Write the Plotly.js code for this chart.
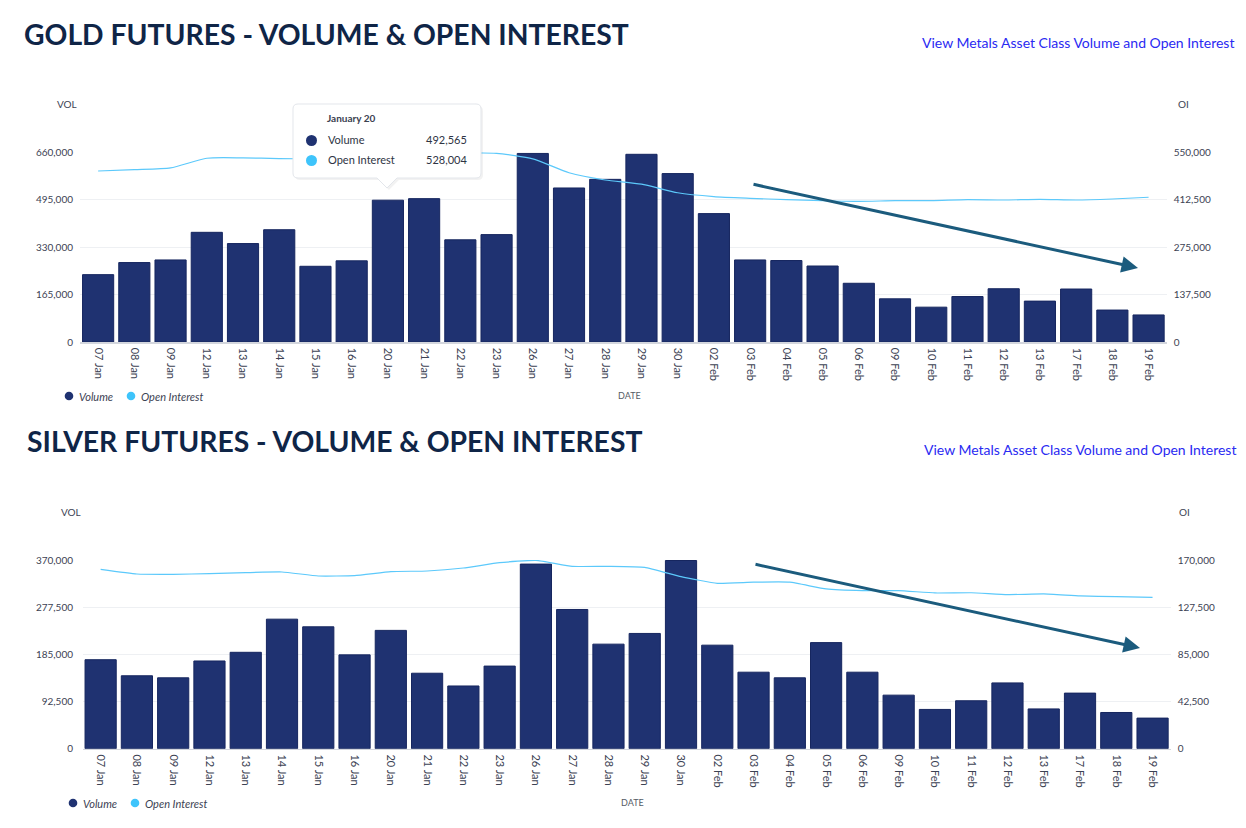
<!DOCTYPE html>
<html>
<head>
<meta charset="utf-8">
<script src="https://cdn.plot.ly/plotly-3.0.1.min.js"></script>
<style>
html,body{margin:0;padding:0;background:#fff;}
#chart{width:1246px;height:828px;}
</style>
</head>
<body>
<div id="chart"></div>
<script>
// ---------------- DATA ----------------
const dates = ['07 Jan','08 Jan','09 Jan','12 Jan','13 Jan','14 Jan','15 Jan','16 Jan','20 Jan','21 Jan',
  '22 Jan','23 Jan','26 Jan','27 Jan','28 Jan','29 Jan','30 Jan','02 Feb','03 Feb','04 Feb',
  '05 Feb','06 Feb','09 Feb','10 Feb','11 Feb','12 Feb','13 Feb','17 Feb','18 Feb','19 Feb'];

const goldVolume = [234000,276000,285000,381000,342000,390000,263000,282000,492565,498000,
  355000,373000,655000,535000,565000,652000,585000,446000,285000,283000,
  264000,204000,150000,121000,158000,185000,142000,184000,111000,94000];

const goldOpenInterest = [495000,499000,504000,532000,533000,531000,530000,529000,528004,540000,
  546000,546000,530000,490000,469000,457000,432000,421000,416000,412000,
  409000,407000,409000,409000,412000,411000,413000,411000,414000,419000];

const silverVolume = [174500,143000,139000,172000,189000,254000,239000,184000,232000,148000,
  123000,162000,362000,273000,205000,226000,369000,203000,150000,139000,
  208000,150000,105000,77000,94000,129000,78000,109000,71000,60000];

const silverOpenInterest = [161600,157400,157100,157700,158600,159200,155600,155900,159500,160100,
  162800,167600,169700,164300,164300,163400,155000,149000,150000,150000,
  143900,142400,142400,140300,140500,138800,139400,137600,137000,136400];

const goldVolTicks = [0,165000,330000,495000,660000];
const goldOITicks = [0,137500,275000,412500,550000];
const silverVolTicks = [0,92500,185000,277500,370000];
const silverOITicks = [0,42500,85000,127500,170000];

const tooltipIndex = 8; // 20 Jan

// ---------------- STYLE ----------------
const W = 1246, H = 828;
const FONT = 'Lato, "Open Sans", sans-serif';
const NAVY = '#1f3271';
const LIGHT = '#5cc9fb';
const DOT_LIGHT = '#3ec4fb';
const TXT = '#3c4253';
const TITLE = '#0f2547';
const LINK = '#2a2af2';
const ARROW = '#1b5b7d';
const px = x => x / W;
const py = y => 1 - y / H;
const fmt = v => v.toLocaleString('en-US');

const months = {Jan:'January', Feb:'February'};
const tipDate = (() => { const p = dates[tooltipIndex].split(' '); return months[p[1]] + ' ' + parseInt(p[0], 10); })();

const traces = [
  {type:'bar', x:dates, y:goldVolume, xaxis:'x', yaxis:'y', name:'Volume',
   marker:{color:NAVY, line:{color:'#16265f', width:1}}, showlegend:false, hoverinfo:'skip'},
  {type:'scatter', mode:'lines', x:dates, y:goldOpenInterest, xaxis:'x', yaxis:'y2', name:'Open Interest',
   line:{color:LIGHT, width:1.2, shape:'spline', smoothing:0.6}, showlegend:false, hoverinfo:'skip'},
  {type:'bar', x:dates, y:silverVolume, xaxis:'x2', yaxis:'y3', name:'Volume',
   marker:{color:NAVY, line:{color:'#16265f', width:1}}, showlegend:false, hoverinfo:'skip'},
  {type:'scatter', mode:'lines', x:dates, y:silverOpenInterest, xaxis:'x2', yaxis:'y4', name:'Open Interest',
   line:{color:LIGHT, width:1.2, shape:'spline', smoothing:0.4}, showlegend:false, hoverinfo:'skip'}
];

const tickFont = {family:FONT, size:10, color:TXT};
function xAxis(x0, x1, anchor) {
  return {domain:[px(x0), px(x1)], anchor:anchor, type:'category', tickangle:90,
    showgrid:false, showline:true, linecolor:'#d3d6dd', linewidth:1.5, ticks:'',
    tickfont:{family:FONT, size:11, color:TXT}, ticklabelstandoff:2, fixedrange:true, automargin:false};
}
function yLeft(y0, y1, ticks) {
  return {domain:[py(y1), py(y0)], range:[0, ticks[ticks.length-1]], tickmode:'array', tickvals:ticks,
    ticktext:ticks.map(fmt), showgrid:true, gridcolor:'#eef0f3', gridwidth:1, zeroline:false,
    showline:false, ticks:'', tickfont:tickFont, ticklabelstandoff:6, fixedrange:true, automargin:false};
}
function yRight(over, anchor, ticks) {
  return {overlaying:over, side:'right', anchor:anchor, range:[0, ticks[ticks.length-1]], tickmode:'array',
    tickvals:ticks, ticktext:ticks.map(fmt), showgrid:false, zeroline:false, showline:false, ticks:'',
    tickfont:tickFont, ticklabelstandoff:6, fixedrange:true, automargin:false};
}

const ann = [];
function txt(text, x, y, opts) {
  ann.push(Object.assign({text:text, x:px(x), y:py(y), xref:'paper', yref:'paper', showarrow:false,
    xanchor:'left', yanchor:'middle', font:{family:FONT, size:10, color:TXT}}, opts || {}));
}
const shapes = [];
function dot(cx, cy, r, color) {
  shapes.push({type:'circle', xref:'paper', yref:'paper', x0:px(cx - r), x1:px(cx + r),
    y0:py(cy + r), y1:py(cy - r), fillcolor:color, line:{width:0}, layer:'above'});
}
function tipPath(x0, y0, x1, y1, r, cx, ph, off) {
  const P = (x, y) => (px(x + off)).toFixed(5) + ',' + (py(y + off)).toFixed(5);
  return 'M' + P(x0 + r, y0) + ' L' + P(x1 - r, y0) + ' Q' + P(x1, y0) + ' ' + P(x1, y0 + r) +
    ' L' + P(x1, y1 - r) + ' Q' + P(x1, y1) + ' ' + P(x1 - r, y1) +
    ' L' + P(cx + 10, y1) + ' L' + P(cx, y1 + ph) + ' L' + P(cx - 10, y1) +
    ' L' + P(x0 + r, y1) + ' Q' + P(x0, y1) + ' ' + P(x0, y1 - r) +
    ' L' + P(x0, y0 + r) + ' Q' + P(x0, y0) + ' ' + P(x0 + r, y0) + ' Z';
}

// Titles & links
txt('<b>GOLD FUTURES - VOLUME &amp; OPEN INTEREST</b>', 22, 34, {font:{family:FONT, size:28.3, color:TITLE}});
txt('<b>SILVER FUTURES - VOLUME &amp; OPEN INTEREST</b>', 25, 441, {font:{family:FONT, size:28.3, color:TITLE}});
txt('View Metals Asset Class Volume and Open Interest', 1236, 42, {xanchor:'right', font:{family:FONT, size:14, color:LINK}});
txt('View Metals Asset Class Volume and Open Interest', 1238, 449, {xanchor:'right', font:{family:FONT, size:14, color:LINK}});
// Axis titles
txt('VOL', 55, 104, {font:{family:FONT, size:10, color:TXT}});
txt('OI', 1176, 104, {font:{family:FONT, size:10, color:TXT}});
txt('VOL', 59, 512, {font:{family:FONT, size:10, color:TXT}});
txt('OI', 1177, 512, {font:{family:FONT, size:10, color:TXT}});
txt('DATE', 629, 395, {xanchor:'center', font:{family:FONT, size:9, color:'#555b66'}});
txt('DATE', 632, 802, {xanchor:'center', font:{family:FONT, size:9, color:'#555b66'}});
// Legends
[[69, 396], [73, 803]].forEach(([lx, ly]) => {
  dot(lx, ly, 4.3, NAVY);
  txt('<i>Volume</i>', lx + 8, ly, {font:{family:FONT, size:11, color:TXT}});
  dot(lx + 62, ly, 4.3, DOT_LIGHT);
  txt('<i>Open Interest</i>', lx + 70, ly, {font:{family:FONT, size:11, color:TXT}});
});
// Trend arrows
ann.push({x:px(1138), y:py(268), xref:'paper', yref:'paper', text:'', showarrow:true, ax:-386, ay:-84,
  arrowhead:2, arrowsize:1.1, arrowwidth:3, arrowcolor:ARROW, standoff:0});
ann.push({x:px(1140), y:py(648), xref:'paper', yref:'paper', text:'', showarrow:true, ax:-386, ay:-84,
  arrowhead:2, arrowsize:1.1, arrowwidth:3, arrowcolor:ARROW, standoff:0});

// Tooltip box
shapes.push({type:'path', xref:'paper', yref:'paper', path:tipPath(293, 104, 481, 178, 5, 387, 10, 2),
  fillcolor:'rgba(0,0,0,0.05)', line:{width:0}, layer:'above'});
shapes.push({type:'path', xref:'paper', yref:'paper', path:tipPath(293, 104, 481, 178, 5, 387, 10, 0),
  fillcolor:'#ffffff', line:{color:'#e3e6eb', width:1}, layer:'above'});
dot(311.5, 140.5, 5.5, NAVY);
dot(311.5, 160.5, 5.5, DOT_LIGHT);
// Tooltip content
txt('<b>' + tipDate + '</b>', 325, 118, {font:{family:FONT, size:10, color:'#3a4150'}});
txt('Volume', 326, 140, {font:{family:FONT, size:11, color:'#2e3444'}});
txt(fmt(goldVolume[tooltipIndex]), 469, 140, {xanchor:'right', font:{family:FONT, size:11, color:'#2e3444'}});
txt('Open Interest', 326, 160, {font:{family:FONT, size:11, color:'#2e3444'}});
txt(fmt(goldOpenInterest[tooltipIndex]), 469, 160, {xanchor:'right', font:{family:FONT, size:11, color:'#2e3444'}});

const layout = {
  width:W, height:H, margin:{l:0, r:0, t:0, b:0}, paper_bgcolor:'#fff', plot_bgcolor:'#fff',
  bargap:0.14, showlegend:false, hovermode:false, font:{family:FONT, color:TXT},
  xaxis: xAxis(80, 1166.7, 'y'),
  yaxis: yLeft(152, 342, goldVolTicks),
  yaxis2: yRight('y', 'x', goldOITicks),
  xaxis2: xAxis(82.5, 1170.7, 'y3'),
  yaxis3: yLeft(560, 748.7, silverVolTicks),
  yaxis4: yRight('y3', 'x2', silverOITicks),
  annotations: ann,
  shapes: shapes
};

Plotly.newPlot('chart', traces, layout, {staticPlot:true, displayModeBar:false});
</script>
</body>
</html>
